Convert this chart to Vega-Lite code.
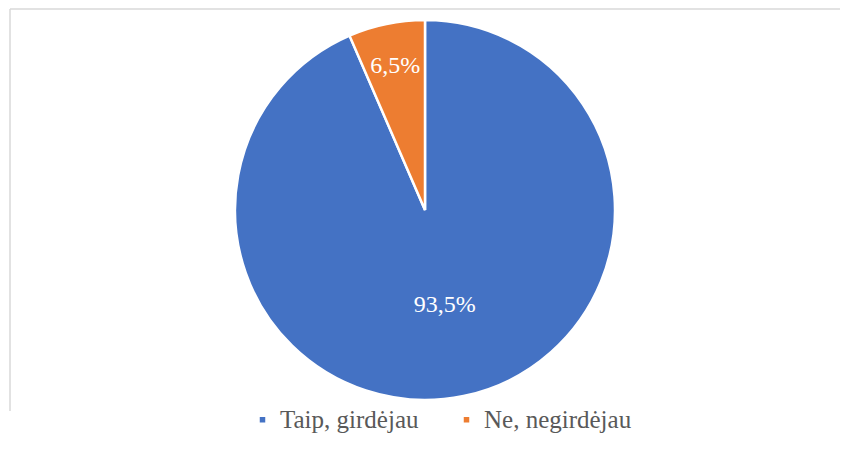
{
  "$schema": "https://vega.github.io/schema/vega-lite/v6.json",
  "width": 830,
  "height": 402,
  "autosize": {"type": "none"},
  "padding": {"left": 10, "top": 9, "right": 19, "bottom": 39},
  "background": "white",
  "view": {"stroke": "#d9d9d9", "strokeWidth": 1.5, "strokeDash": [830, 1232, 402, 0]},
  "config": {
    "font": "Times New Roman"
  },
  "data": {
    "values": [
      {"cat": "Taip, girdėjau", "value": 93.5, "label": "93,5%", "ord": 1},
      {"cat": "Ne, negirdėjau", "value": 6.5, "label": "6,5%", "ord": 2}
    ]
  },
  "encoding": {
    "theta": {"field": "value", "type": "quantitative", "stack": true},
    "order": {"field": "ord", "type": "quantitative"},
    "color": {
      "field": "cat",
      "type": "nominal",
      "scale": {"domain": ["Taip, girdėjau", "Ne, negirdėjau"], "range": ["#4472C4", "#ED7D31"]},
      "legend": {
        "title": null,
        "orient": "none",
        "legendX": 240,
        "legendY": 398,
        "direction": "horizontal",
        "symbolType": "square",
        "symbolSize": 49,
        "labelFontSize": 25,
        "labelFont": "Times New Roman",
        "labelColor": "#595959",
        "labelOffset": 5,
        "columnPadding": 35,
        "labelLimit": 400
      }
    }
  },
  "layer": [
    {"mark": {"type": "arc", "outerRadius": 190, "stroke": "white", "strokeWidth": 2.5}},
    {
      "mark": {"type": "text", "radius": 97, "fontSize": 24, "font": "Times New Roman", "fill": "white"},
      "encoding": {
        "text": {"condition": {"test": "datum.cat === 'Taip, girdėjau'", "field": "label"}, "value": ""}
      }
    },
    {
      "mark": {"type": "text", "radius": 147, "fontSize": 24, "font": "Times New Roman", "fill": "white"},
      "encoding": {
        "text": {"condition": {"test": "datum.cat === 'Ne, negirdėjau'", "field": "label"}, "value": ""}
      }
    }
  ]
}
